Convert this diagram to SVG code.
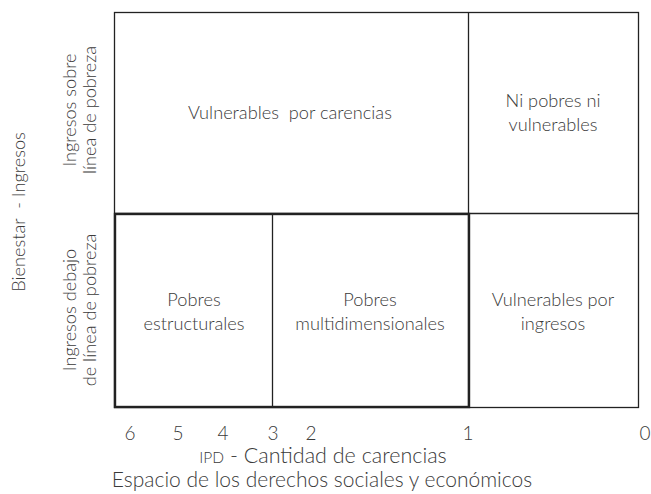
<svg xmlns="http://www.w3.org/2000/svg" width="651" height="494" viewBox="0 0 651 494">
<style>
text{font-family:"Lato","Open Sans","Liberation Sans",sans-serif;font-weight:300;font-size:18.2px;fill:#3a3a3a;text-anchor:middle}
.thin{fill:none;stroke:#222;stroke-width:1.3}
.thick{fill:none;stroke:#222;stroke-width:2.4}
.num{font-size:19px}
.axis{font-size:21.5px}
.axis2{font-size:21px}
.sc{font-size:15.5px}
</style>
<rect width="651" height="494" fill="#fff"/>
<g id="grid">
<rect class="thin" x="114.5" y="12.5" width="524" height="395"/>
<line class="thin" x1="468.5" y1="12.5" x2="468.5" y2="407.5"/>
<line class="thin" x1="114.5" y1="213.5" x2="638.5" y2="213.5"/>
<line class="thin" x1="272.5" y1="213.5" x2="272.5" y2="407.5"/>
<rect class="thick" x="115" y="214" width="354" height="193"/>
</g>
<g id="vulnerables-carencias"><text x="290" y="119">Vulnerables&#160; por carencias</text></g>
<g id="ni-pobres"><text x="553" y="107">Ni pobres ni</text><text x="553" y="131">vulnerables</text></g>
<g id="pobres-estructurales"><text x="194" y="306">Pobres</text><text x="194" y="330">estructurales</text></g>
<g id="pobres-multi"><text x="370" y="306">Pobres</text><text x="370" y="330">multidimensionales</text></g>
<g id="vulnerables-ingresos"><text x="553" y="306">Vulnerables por</text><text x="553" y="330">ingresos</text></g>
<g id="yaxis">
<text transform="translate(25,212) rotate(-90)">Bienestar&#160; - Ingresos</text>
<text transform="translate(76,110) rotate(-90)">Ingresos sobre</text>
<text transform="translate(96,110) rotate(-90)">línea de pobreza</text>
<text transform="translate(76,310) rotate(-90)">Ingresos debajo</text>
<text transform="translate(96,310) rotate(-90)">de línea de pobreza</text>
</g>
<g id="xaxis">
<text class="num" x="130" y="440">6</text>
<text class="num" x="178" y="440">5</text>
<text class="num" x="223" y="440">4</text>
<text class="num" x="273" y="440">3</text>
<text class="num" x="311" y="440">2</text>
<text class="num" x="468" y="440">1</text>
<text class="num" x="645" y="440">0</text>
<text class="axis" x="323" y="463"><tspan class="sc">IPD</tspan> - Cantidad de carencias</text>
<text class="axis2" x="322" y="487">Espacio de los derechos sociales y económicos</text>
</g>
</svg>
